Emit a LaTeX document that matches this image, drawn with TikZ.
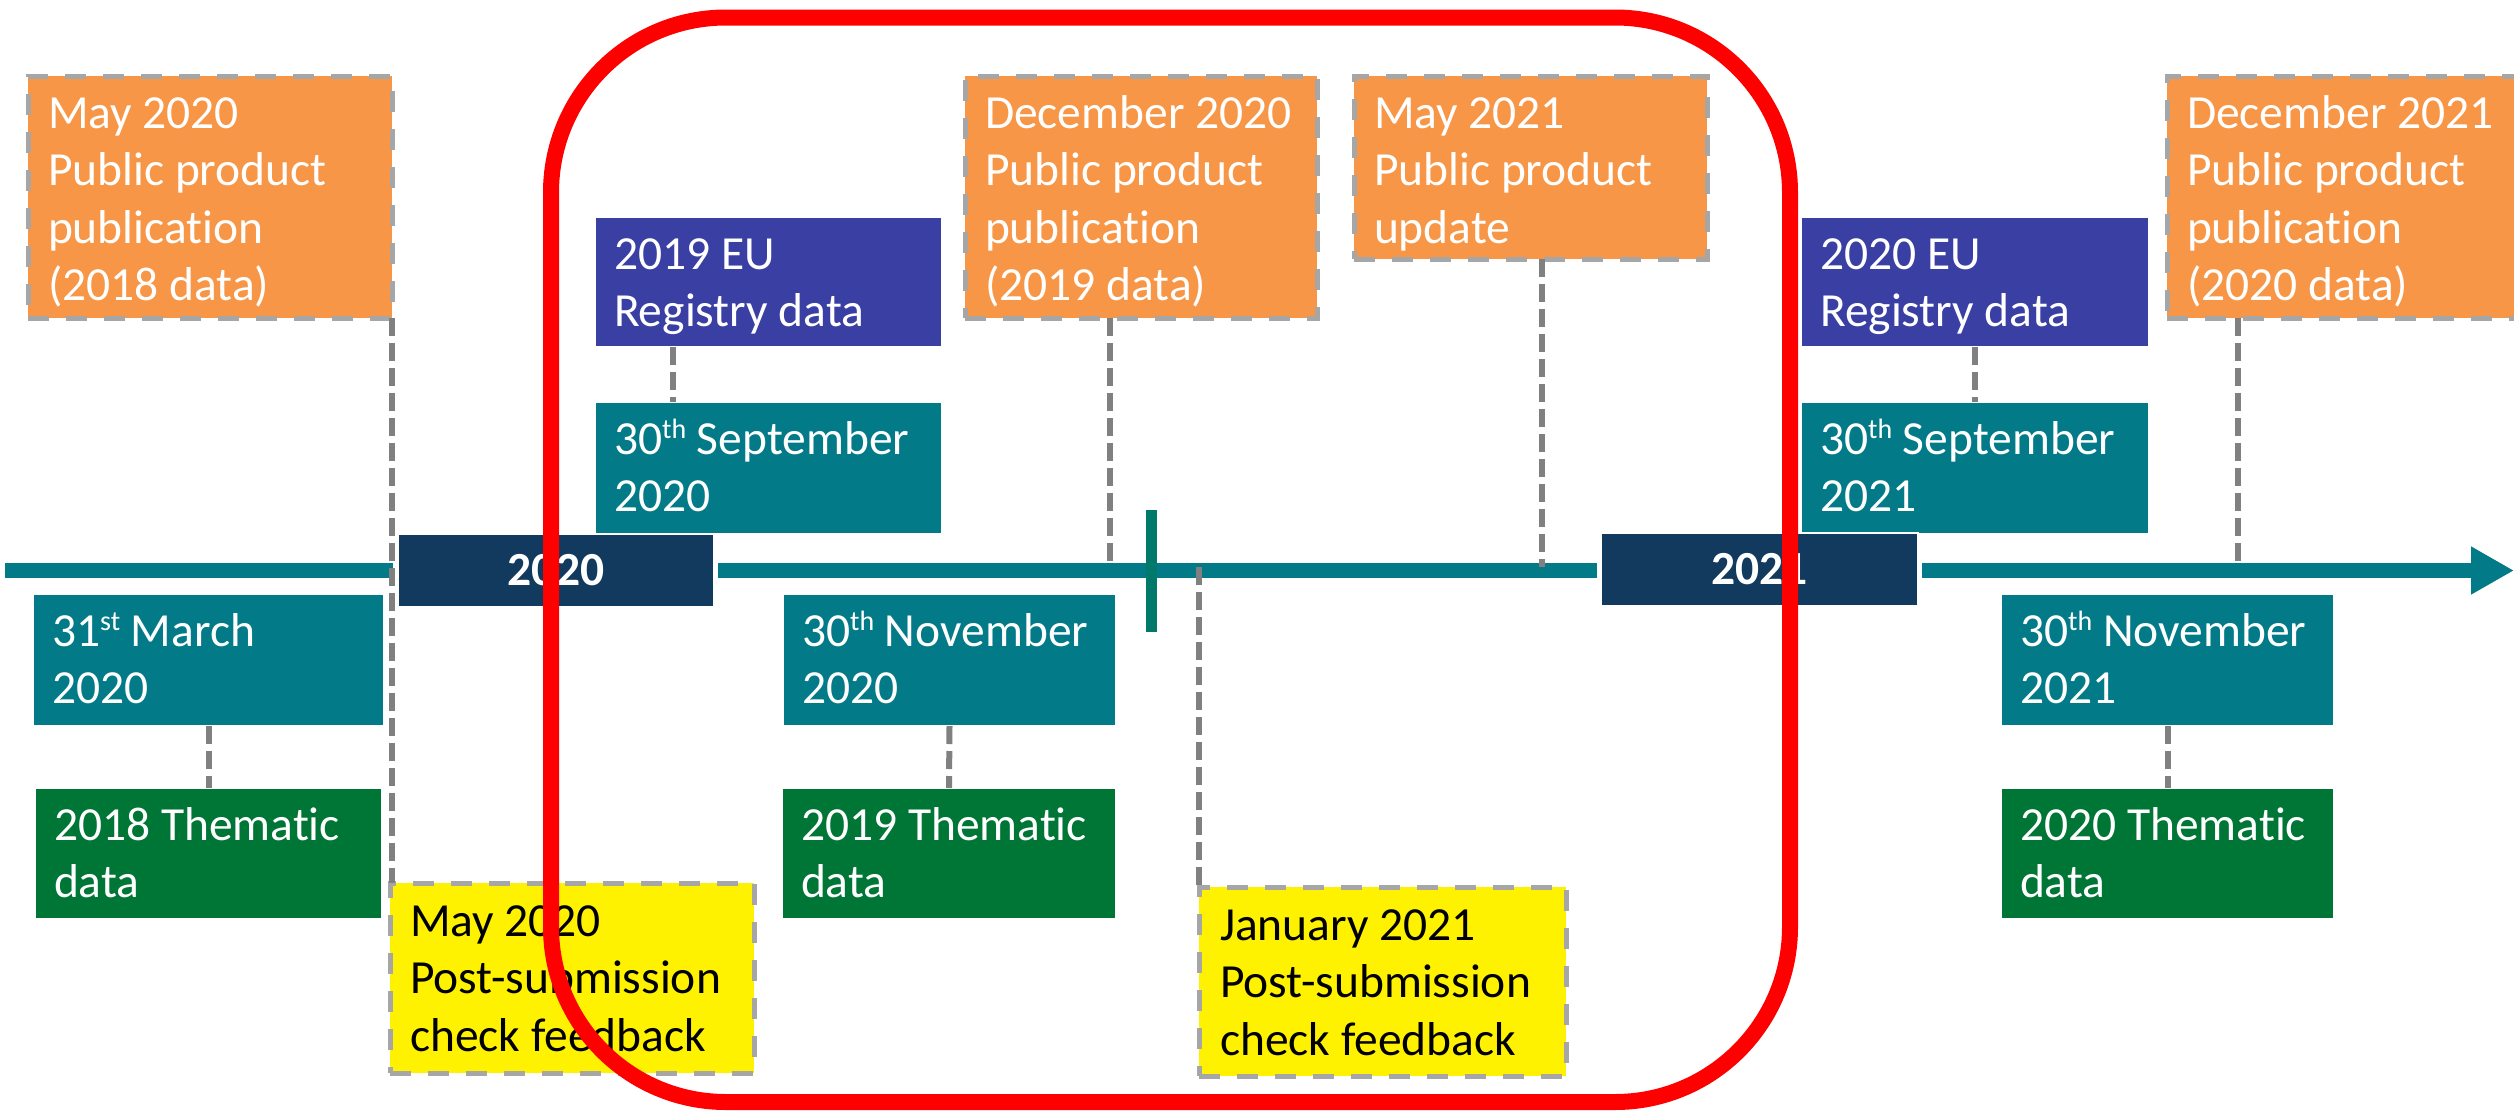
\documentclass[tikz,border=0pt]{standalone}
\usepackage{fontspec}
\setmainfont{Carlito}[Ligatures=NoCommon]
\usetikzlibrary{arrows.meta}
\definecolor{tealc}{HTML}{027A88}
\definecolor{navy}{HTML}{12395E}
\definecolor{purp}{HTML}{3A3FA3}
\definecolor{greenc}{HTML}{007636}
\definecolor{orangec}{HTML}{F79646}
\definecolor{bordgray}{HTML}{A6A6A6}
\definecolor{conngray}{HTML}{808080}
\definecolor{tickc}{HTML}{00796A}
\newcommand\supx[1]{\raisebox{15.5pt}{\fontsize{28}{28}\selectfont #1}}
\begin{document}
\begin{tikzpicture}[x=1pt,y=-1pt,
  solidbox/.style={rectangle, anchor=north west, inner sep=0pt, outer sep=0pt, draw=white, line width=1.5pt},
  dashbox/.style={rectangle, anchor=north west, inner sep=0pt, outer sep=0pt, draw=bordgray, line width=5pt, dash pattern=on 21pt off 17pt},
  txt/.style={anchor=north west, inner sep=0pt, outer sep=0pt, align=left, font=\fontsize{47.5}{57.5}\selectfont, text=white},
  btxt/.style={txt, text=black},
  conn/.style={draw=conngray, line width=6pt, dash pattern=on 18pt off 7pt},
  tline/.style={draw=tealc, line width=15pt},
  yearbox/.style={solidbox, fill=navy, line width=2pt, text=white, font=\fontsize{47.5}{57.5}\selectfont\bfseries},
]
\clip (0,0) rectangle (2514,1112);

% orange boxes
\node[dashbox, fill=orangec, minimum width=364pt, minimum height=242pt] (o1) at (28,76) {};
\node[txt] (o1t) at ([shift={(20,11.75)}]o1.north west) {\strut May 2020\\Public product\\publication\\(2018 data)};
\node[dashbox, fill=orangec, minimum width=352pt, minimum height=242pt] (o2) at (965,76) {};
\node[txt] (o2t) at ([shift={(20,11.75)}]o2.north west) {\strut December 2020\\Public product\\publication\\(2019 data)};
\node[dashbox, fill=orangec, minimum width=353pt, minimum height=183pt] (o3) at (1354,76) {};
\node[txt] (o3t) at ([shift={(20,11.75)}]o3.north west) {\strut May 2021\\Public product\\update};
\node[dashbox, fill=orangec, minimum width=380pt, minimum height=242pt] (o4) at (2167,76) {};
\node[txt] (o4t) at ([shift={(20,11.75)}]o4.north west) {\strut December 2021\\Public product\\publication\\(2020 data)};

% EU registry boxes
\node[solidbox, fill=purp, minimum width=347pt, minimum height=130pt] (eu1) at (595,217) {};
\node[txt] (eu1t) at ([shift={(19,11.75)}]eu1.north west) {\strut 2019 EU\\Registry data};
\node[solidbox, fill=purp, minimum width=348pt, minimum height=130pt] (eu2) at (1801,217) {};
\node[txt] (eu2t) at ([shift={(19,11.75)}]eu2.north west) {\strut 2020 EU\\Registry data};

% September boxes
\node[solidbox, fill=tealc, minimum width=347pt, minimum height=132pt] (s1) at (595,402) {};
\node[txt] (s1t) at ([shift={(19,11.75)}]s1.north west) {\strut 30\supx{th} September\\2020};
\node[solidbox, fill=tealc, minimum width=348pt, minimum height=132pt] (s2) at (1801,402) {};
\node[txt] (s2t) at ([shift={(19,11.75)}]s2.north west) {\strut 30\supx{th} September\\2021};

% year boxes
\node[yearbox, minimum width=316pt, minimum height=73pt] (y20) at (398,534) {2020};
\node[yearbox, minimum width=317pt, minimum height=73pt] (y21) at (1601,533) {2021};

% date boxes below the line
\node[solidbox, fill=tealc, minimum width=351pt, minimum height=132pt] (m1) at (33,594) {};
\node[txt] (m1t) at ([shift={(19,11.75)}]m1.north west) {\strut 31\supx{st} March\\2020};
\node[solidbox, fill=tealc, minimum width=333pt, minimum height=132pt] (n1) at (783,594) {};
\node[txt] (n1t) at ([shift={(19,11.75)}]n1.north west) {\strut 30\supx{th} November\\2020};
\node[solidbox, fill=tealc, minimum width=333pt, minimum height=132pt] (n2) at (2001,594) {};
\node[txt] (n2t) at ([shift={(19,11.75)}]n2.north west) {\strut 30\supx{th} November\\2021};

% thematic boxes
\node[solidbox, fill=greenc, minimum width=347pt, minimum height=131pt] (t1) at (35,788) {};
\node[txt] (t1t) at ([shift={(19,11.75)}]t1.north west) {\strut 2018 Thematic\\data};
\node[solidbox, fill=greenc, minimum width=334pt, minimum height=131pt] (t2) at (782,788) {};
\node[txt] (t2t) at ([shift={(19,11.75)}]t2.north west) {\strut 2019 Thematic\\data};
\node[solidbox, fill=greenc, minimum width=333pt, minimum height=131pt] (t3) at (2001,788) {};
\node[txt] (t3t) at ([shift={(19,11.75)}]t3.north west) {\strut 2020 Thematic\\data};

% yellow boxes
\node[dashbox, fill=yellow, minimum width=364pt, minimum height=190pt] (yl1) at (390,883) {};
\node[btxt] (yl1t) at ([shift={(20,12.75)}]yl1.north west) {\strut May 2020\\Post-submission\\check feedback};
\node[dashbox, fill=yellow, minimum width=367pt, minimum height=189pt] (yl2) at (1199,887) {};
\node[btxt] (yl2t) at ([shift={(21,12.75)}]yl2.north west) {\strut January 2021\\Post-submission\\check feedback};

% timeline
\coordinate (tlA) at (5,570.5);
\coordinate (tlB) at (393,570.5);
\coordinate (tlC) at (718,570.5);
\coordinate (tlD) at (1597,570.5);
\coordinate (tlE) at (1922,570.5);
\coordinate (tlF) at (2514,570.5);
\coordinate (tlTop) at (5,567);
\draw[tline] (tlA) -- (tlB);
\draw[tline] (tlC) -- (tlD);
\draw[tline, -{Triangle[length=43pt,width=45pt]}] (tlE) -- (tlF);

% connectors
\draw[conn] (o1.south east) -- (o1.south east |- yl1.north);
\coordinate (c1) at ([xshift=78pt]eu1.south west);
\coordinate (c1b) at ([xshift=78pt]s1.north west);
\draw[conn] (c1) -- (c1b);
\draw[conn] (eu2.south) -- (s2.north);
\draw[conn] (m1.south) -- (t1.north);
\draw[conn] (n1.south) -- (t2.north);
\draw[conn] (n2.south) -- (t3.north);
\coordinate (c2) at ([xshift=145pt]o2.south west);
\draw[conn] (c2) -- (c2 |- tlTop);
\coordinate (c3) at ([xshift=188pt]o3.south west);
\draw[conn] (c3) -- (c3 |- tlTop);
\coordinate (c4) at ([xshift=71pt]o4.south west);
\draw[conn] (c4) -- (c4 |- tlTop);
\draw[conn] (yl2.north west |- tlTop) -- (yl2.north west);

% tick
\node[rectangle, anchor=north west, inner sep=0pt, outer sep=0pt, fill=tickc, minimum width=11pt, minimum height=122pt] (tick) at (1146,510) {};

% highlight frame
\draw[red, line width=16pt, rounded corners=175pt] (551,17.5) rectangle (1790,1102);
\end{tikzpicture}
\end{document}
